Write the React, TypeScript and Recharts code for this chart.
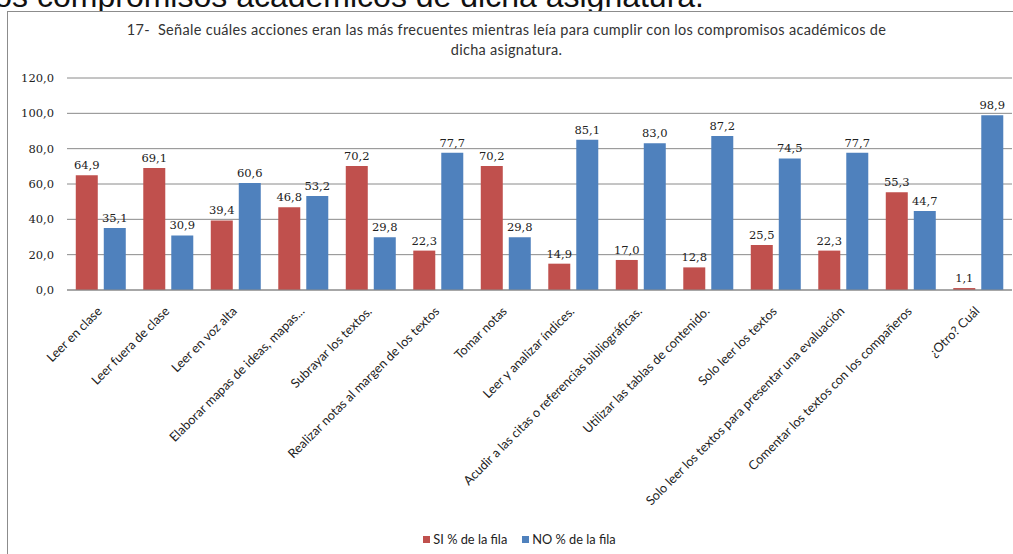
import React from "react";
import { BarChart, Bar, XAxis, YAxis, CartesianGrid, LabelList, Legend } from "recharts";

const categories = [
  "Leer en clase",
  "Leer fuera de clase",
  "Leer en voz alta",
  "Elaborar mapas de ideas, mapas...",
  "Subrayar los textos.",
  "Realizar notas al margen de los textos",
  "Tomar notas",
  "Leer y analizar índices.",
  "Acudir a las citas o referencias bibliográficas.",
  "Utilizar las tablas de contenido.",
  "Solo leer los textos",
  "Solo leer los textos para presentar una evaluación",
  "Comentar los textos con los compañeros",
  "¿Otro? Cuál",
];
const siValues = [64.9, 69.1, 39.4, 46.8, 70.2, 22.3, 70.2, 14.9, 17.0, 12.8, 25.5, 22.3, 55.3, 1.1];
const noValues = [35.1, 30.9, 60.6, 53.2, 29.8, 77.7, 29.8, 85.1, 83.0, 87.2, 74.5, 77.7, 44.7, 98.9];
const yTicks = [0, 20, 40, 60, 80, 100, 120];
const seriesNames = ["SI % de la fila", "NO % de la fila"];
const titleLines = [
  "17-  Señale cuáles acciones eran las más frecuentes mientras leía para cumplir con los compromisos académicos de",
  "dicha asignatura.",
];
const pageText = "los compromisos académicos de dicha asignatura.";

const data = categories.map((c, i) => ({ name: c, si: siValues[i], no: noValues[i] }));

const RED = "#C0504D";
const BLUE = "#4F81BD";
const fmt = (v: number) => v.toFixed(1).replace(".", ",");

const CatTick = (props: any) => {
  const { x, y, payload } = props;
  const ax = x + 2;
  const ay = y + 14;
  return (
    <text
      x={ax}
      y={ay}
      transform={`rotate(-45, ${ax}, ${ay})`}
      textAnchor="end"
      fontFamily="Lato, 'Open Sans', sans-serif"
      fontSize={12.7}
      fill="#222"
    >
      {payload.value}
    </text>
  );
};

const LegendContent = () => (
  <div style={{ display: "flex", justifyContent: "center", fontFamily: "Lato, sans-serif", fontSize: 12.8, color: "#222" }}>
    {seriesNames.map((n, i) => (
      <span key={n} style={{ display: "inline-flex", alignItems: "center", marginRight: i === 0 ? 15 : 0 }}>
        <span style={{ width: 7, height: 7, background: i === 0 ? RED : BLUE, display: "inline-block", marginRight: 3 }} />
        {n}
      </span>
    ))}
  </div>
);

export default function App() {
  return (
    <div style={{ position: "fixed", left: 0, top: 0, width: 1013, height: 554, overflow: "hidden", background: "#fff" }}>
      <div
        style={{
          position: "absolute",
          right: 309,
          top: -22,
          whiteSpace: "nowrap",
          fontFamily: "'Liberation Sans', Arial, sans-serif",
          fontSize: 32,
          lineHeight: "37px",
          color: "#111",
        }}
      >
        {pageText}
      </div>
      <div
        style={{
          position: "absolute",
          left: 7,
          top: 11,
          width: 1030,
          height: 600,
          border: "1px solid #8c8c8c",
          boxSizing: "border-box",
          background: "#fff",
        }}
      />
      <div
        style={{
          position: "absolute",
          left: 0,
          top: 20,
          width: 1013,
          textAlign: "center",
          fontFamily: "Lato, sans-serif",
          fontSize: 14.5,
          letterSpacing: 0.3,
          lineHeight: "20px",
          color: "#333",
          whiteSpace: "pre",
        }}
      >
        {titleLines.map((l) => (
          <div key={l}>{l}</div>
        ))}
      </div>
      <div style={{ position: "absolute", left: 0, top: 0 }}>
        <BarChart
          width={1013}
          height={554}
          data={data}
          margin={{ top: 78, right: 1, left: 0, bottom: 0 }}
          barCategoryGap="13%"
          barGap={6}
        >
          <CartesianGrid vertical={false} stroke="#8a8a8a" strokeWidth={1} />
          <XAxis
            dataKey="name"
            interval={0}
            height={264}
            tick={<CatTick />}
            tickLine={false}
            axisLine={{ stroke: "#8a8a8a" }}
          />
          <YAxis
            width={67}
            domain={[0, 120]}
            ticks={yTicks}
            tickFormatter={fmt}
            tickLine={false}
            axisLine={false}
            tickMargin={7}
            tick={{ fontFamily: "'DejaVu Serif', serif", fontSize: 11.5, fill: "#222" }}
          />
          <Legend
            layout="horizontal"
            verticalAlign="middle"
            align="center"
            content={<LegendContent />}
            wrapperStyle={{ top: 531, left: 13, width: 1013 }}
          />
          <Bar dataKey="si" name={seriesNames[0]} fill={RED} isAnimationActive={false}>
            <LabelList dataKey="si" position="top" formatter={(v: any) => fmt(Number(v))} style={{ fontFamily: "'DejaVu Serif', serif", fontSize: 11.5, fill: "#222" }} offset={6} />
          </Bar>
          <Bar dataKey="no" name={seriesNames[1]} fill={BLUE} isAnimationActive={false}>
            <LabelList dataKey="no" position="top" formatter={(v: any) => fmt(Number(v))} style={{ fontFamily: "'DejaVu Serif', serif", fontSize: 11.5, fill: "#222" }} offset={6} />
          </Bar>
        </BarChart>
      </div>
    </div>
  );
}
